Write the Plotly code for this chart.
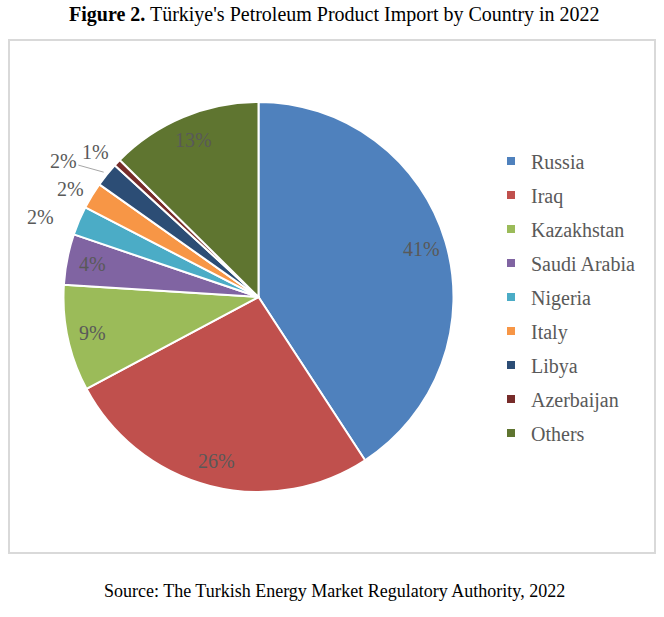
import math
import plotly.graph_objects as go

countries = ["Russia", "Iraq", "Kazakhstan", "Saudi Arabia", "Nigeria",
             "Italy", "Libya", "Azerbaijan", "Others"]
shares = [40.8, 26.4, 8.8, 4.2, 2.4, 2.2, 2.0, 0.6, 12.6]
colors = ["#4F81BD", "#C0504D", "#9BBB59", "#8064A2", "#4BACC6",
          "#F79646", "#2C4D75", "#772C2A", "#5F7530"]
# label placement style: radial factor (x radius) and angular nudge (deg)
label_radius = [0.87, 0.87, 0.87, 0.87, 1.19, 1.11, 1.22, 1.12, 0.87]
label_nudge = [0, 0, 0, 0, -3, -1.5, -4, -2, 0]
leader = [False, False, False, False, False, False, True, False, False]

W, H = 664, 617
cx, cy, R = 258.5, 297, 195   # pie centre/radius in page pixels
FONT = "Liberation Serif"


def px(x):
    return x / W


def py(y):
    return 1 - y / H


fig = go.Figure()
fig.add_trace(go.Pie(
    labels=countries,
    values=shares,
    sort=False,
    direction="clockwise",
    rotation=0,
    marker=dict(colors=colors, line=dict(color="white", width=2)),
    textinfo="none",
    showlegend=False,
    domain=dict(x=[px(cx - R), px(cx + R)], y=[py(cy + R), py(cy - R)]),
    hoverinfo="label+percent",
))

# legend entries (one group per country so spacing can be set)
for name, col in zip(countries, colors):
    fig.add_trace(go.Scatter(
        x=[None], y=[None], mode="markers", name=name, legendgroup=name,
        marker=dict(symbol="square", size=8, color=col),
        showlegend=True, hoverinfo="skip",
    ))

total = sum(shares)
annotations = []
cum = 0.0
for v, rf, nd, ld in zip(shares, label_radius, label_nudge, leader):
    mid = (cum + v / 2) / total * 360.0
    cum += v
    th = math.radians(mid + nd)
    lx = cx + rf * R * math.sin(th)
    ly = cy - rf * R * math.cos(th)
    txt = f"{round(v / total * 100)}%"
    if ld:
        tm = math.radians(mid)
        ex = cx + 1.02 * R * math.sin(tm)
        ey = cy - 1.02 * R * math.cos(tm)
        annotations.append(dict(
            text=txt, x=px(ex), y=py(ey), xref="paper", yref="paper",
            ax=lx - ex, ay=ly - ey, showarrow=True, arrowhead=0,
            arrowwidth=1, arrowcolor="#A6A6A6",
            font=dict(family=FONT, size=20, color="#595959")))
    else:
        annotations.append(dict(
            text=txt, x=px(lx), y=py(ly), xref="paper", yref="paper",
            xanchor="center", yanchor="middle", showarrow=False,
            font=dict(family=FONT, size=20, color="#595959")))

annotations += [
    dict(text="<b>Figure 2.</b> Türkiye's Petroleum Product Import by Country in 2022",
         x=px(335), y=py(14), xref="paper", yref="paper",
         xanchor="center", yanchor="middle", showarrow=False,
         font=dict(family=FONT, size=20, color="black")),
    dict(text="Source: The Turkish Energy Market Regulatory Authority, 2022",
         x=px(335), y=py(591), xref="paper", yref="paper",
         xanchor="center", yanchor="middle", showarrow=False,
         font=dict(family=FONT, size=18, color="black")),
]

fig.update_layout(
    width=W, height=H,
    margin=dict(l=0, r=0, t=0, b=0),
    paper_bgcolor="white",
    plot_bgcolor="white",
    font=dict(family=FONT, color="#595959"),
    xaxis=dict(visible=False),
    yaxis=dict(visible=False),
    showlegend=True,
    legend=dict(
        x=px(491), xanchor="left",
        y=py(cy), yanchor="middle",
        font=dict(family=FONT, size=20, color="#595959"),
        bgcolor="rgba(0,0,0,0)",
        tracegroupgap=5,
        itemclick=False, itemdoubleclick=False,
    ),
    shapes=[dict(type="rect", xref="paper", yref="paper",
                 x0=px(9), x1=px(655), y0=py(553), y1=py(40),
                 line=dict(color="#D9D9D9", width=2), layer="below")],
    annotations=annotations,
)

fig.write_html(
    "out.html",
    config={"displayModeBar": False},
    post_script="document.body.style.margin='0';document.body.style.overflow='hidden';",
)
